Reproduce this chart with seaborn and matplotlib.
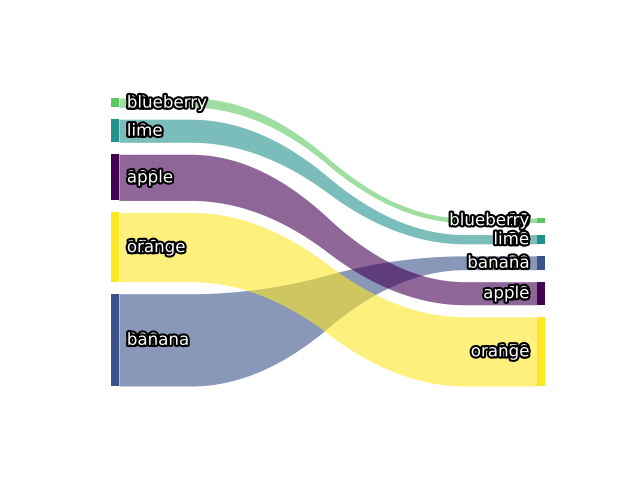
import matplotlib
matplotlib.use("Agg")
import matplotlib.pyplot as plt
import matplotlib.patheffects as pe
import seaborn as sns
import numpy as np

# flows: each fruit on the left goes to the same fruit on the right
fruits = ['banana', 'orange', 'apple', 'lime', 'blueberry']
left_weights = [200, 150, 100, 50, 20]
right_weights = [30, 150, 50, 20, 10]
left_order = ['banana', 'orange', 'apple', 'lime', 'blueberry']    # bottom to top
right_order = ['orange', 'apple', 'banana', 'lime', 'blueberry']   # bottom to top

cmap = plt.get_cmap('viridis')
colors = {'apple': cmap(0.0), 'banana': cmap(0.25), 'lime': cmap(0.5),
          'blueberry': cmap(0.75), 'orange': cmap(1.0)}

lw = dict(zip(fruits, left_weights))
rw = dict(zip(fruits, right_weights))
gap = 0.05 * sum(left_weights)


def stack(order, weights):
    pos = {}
    y = 0
    for f in order:
        pos[f] = (y, y + weights[f])
        y += weights[f] + gap
    return pos


lpos = stack(left_order, lw)
rpos = stack(right_order, rw)

sns.set_style('white')
fig, ax = plt.subplots(figsize=(6.4, 4.8), dpi=100)
bar_w = 0.02

for f in fruits:
    b, t = lpos[f]
    ax.fill_between([-bar_w, 0], [b, b], [t, t], color=colors[f], lw=0)
    b, t = rpos[f]
    ax.fill_between([1, 1 + bar_w], [b, b], [t, t], color=colors[f], lw=0)


def smooth(a, b):
    ys = np.array(50 * [a] + 50 * [b], dtype=float)
    ys = np.convolve(ys, 0.05 * np.ones(20), mode='valid')
    ys = np.convolve(ys, 0.05 * np.ones(20), mode='valid')
    return ys


for f in fruits:
    lo = smooth(lpos[f][0], rpos[f][0])
    hi = smooth(lpos[f][1], rpos[f][1])
    xs = np.linspace(0, 1, len(lo))
    ax.fill_between(xs, lo, hi, color=colors[f], alpha=0.6, lw=0)

# white text with a dark outline, value first and name on top of it
outline = [pe.withStroke(linewidth=3, foreground='black')]
for f in fruits:
    yl = sum(lpos[f]) / 2
    yr = sum(rpos[f]) / 2
    for txt in [str(lw[f]), f]:
        ax.text(0.019, yl, txt, ha='left', va='center', fontsize=12,
                color='white', path_effects=outline)
    for txt in [str(rw[f]), f]:
        ax.text(0.981, yr, txt, ha='right', va='center', fontsize=12,
                color='white', path_effects=outline)

ax.set_xlim(-0.093, 1.093)
ax.set_ylim(-89.3, 711.5)
ax.axis('off')
fig.savefig('out.png', dpi=100)
